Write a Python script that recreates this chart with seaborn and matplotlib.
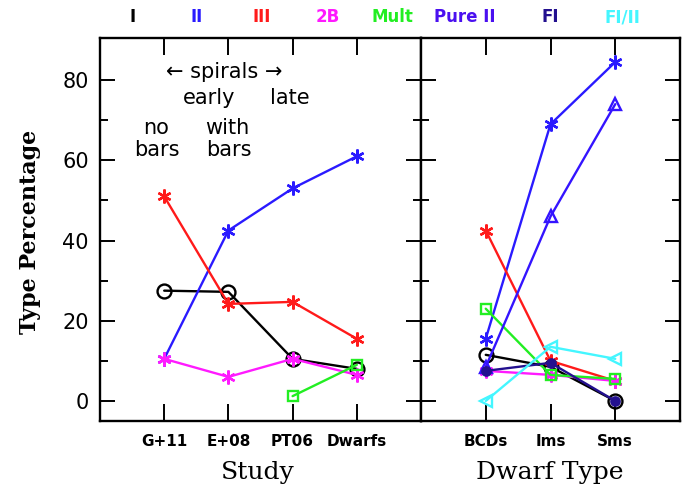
import numpy as np
import pandas as pd
import seaborn as sns
import matplotlib.pyplot as plt

# categories
study_labels = ['G+11', 'E+08', 'PT06', 'Dwarfs']
dwarf_labels = ['BCDs', 'Ims', 'Sms']

# left panel: type percentage per study
left_I = [27.5, 27.2, 10.5, 8.0]
left_II = [10.5, 42.5, 53.0, 61.0]
left_III = [51.0, 24.2, 24.7, 15.5]
left_2B = [10.5, 6.0, 10.5, 6.5]
left_mult = [np.nan, np.nan, 1.2, 9.0]

# right panel: type percentage per dwarf type
right_I = [11.5, 8.5, 0.0]
right_II = [15.5, 69.0, 84.5]
right_III = [42.5, 10.0, 5.0]
right_2B = [7.5, 6.5, 5.0]
right_mult = [23.0, 6.5, 5.5]
right_pure = [8.5, 46.0, 74.0]
right_FI = [7.5, 9.5, 0.0]
right_FIII = [0.0, 13.5, 10.5]

legend_names = ['I', 'II', 'III', '2B', 'Mult', 'Pure II', 'FI', 'FI/II']
legend_x = [133, 197, 262, 328, 392, 465, 550, 622]

colors = {'I': 'black', 'II': '#2a1aff', 'III': '#ff1a1a', '2B': '#ff1aff',
          'Mult': '#22ee22', 'Pure II': '#4a10f0', 'FI': '#23108f', 'FI/II': '#44f6ff'}
star = (6, 2, 0)
markers = {'I': 'o', 'II': star, 'III': star, '2B': star, 'Mult': 's',
           'Pure II': '^', 'FI': 'o', 'FI/II': '<'}
msizes = {'I': 10, 'II': 10, 'III': 10, '2B': 10, 'Mult': 7,
          'Pure II': 8, 'FI': 6, 'FI/II': 8}
line_cols = dict(colors, **{'Pure II': '#3414ff'})

sns.set_theme(style='white')
plt.rcParams['font.family'] = ['DejaVu Sans']
plt.rcParams['text.color'] = 'black'

fig = plt.figure(figsize=(6.9, 4.96), dpi=100)
ax1 = fig.add_axes([100 / 690, 1 - 421 / 496, 321 / 690, 383 / 496])
ax2 = fig.add_axes([421 / 690, 1 - 421 / 496, 259 / 690, 383 / 496], sharey=ax1)


def draw(ax, labels, series):
    x = np.arange(1, len(labels) + 1)
    for name, vals in series:
        df = pd.DataFrame({'x': x, 'y': vals}).dropna()
        filled = name == 'FI'
        c = line_cols[name]
        sns.lineplot(data=df, x='x', y='y', ax=ax, color=c,
                     linewidth=1.7, marker=markers[name], markersize=msizes[name],
                     markerfacecolor=c if filled else 'none',
                     markeredgecolor=c, markeredgewidth=1.7,
                     legend=False)
    ax.set_xticks(x)
    ax.set_xticklabels(labels, fontsize=11, fontweight='bold', color='black')
    ax.set_xlim(0, len(labels) + 1)
    ax.set_xlabel('')
    ax.set_ylabel('')
    ax.tick_params(axis='x', which='major', direction='in', length=12, width=1.4,
                   top=True, bottom=True, pad=9, colors='black')
    ax.tick_params(axis='y', which='major', direction='in', length=11, width=1.4,
                   left=True, right=True, colors='black')
    ax.tick_params(axis='y', which='minor', direction='in', length=6, width=1.4,
                   left=True, right=True, colors='black')
    for s in ax.spines.values():
        s.set_color('black')
        s.set_linewidth(1.7)


draw(ax1, study_labels, [('I', left_I), ('II', left_II), ('III', left_III),
                          ('2B', left_2B), ('Mult', left_mult)])
draw(ax2, dwarf_labels, [('I', right_I), ('II', right_II), ('III', right_III),
                          ('2B', right_2B), ('Mult', right_mult), ('Pure II', right_pure),
                          ('FI', right_FI), ('FI/II', right_FIII)])

ax1.set_ylim(-5, 90.5)
ax1.set_yticks([0, 20, 40, 60, 80])
ax1.set_yticks([10, 30, 50, 70], minor=True)
ax1.tick_params(axis='y', labelsize=15, pad=8, labelcolor='black')
ax2.tick_params(axis='y', labelleft=False)

# text notes in the left panel
note_kw = dict(ha='center', va='center', fontsize=15, color='black')
ax1.text(1.93, 82, '\u2190 spirals \u2192', **note_kw)
ax1.text(1.7, 75.5, 'early', **note_kw)
ax1.text(2.95, 75.5, 'late', **note_kw)
ax1.text(0.87, 68, 'no', **note_kw)
ax1.text(0.89, 62.5, 'bars', **note_kw)
ax1.text(1.98, 68, 'with', **note_kw)
ax1.text(2.0, 62.5, 'bars', **note_kw)

fig.text(30 / 690, 1 - 232 / 496, 'Type Percentage', rotation=90, ha='center', va='center',
         fontsize=16, fontweight='bold', family='DejaVu Serif', color='black')
fig.text(258 / 690, 1 - 472 / 496, 'Study', ha='center', va='center',
         fontsize=18, family='DejaVu Serif', color='black')
fig.text(550 / 690, 1 - 472 / 496, 'Dwarf Type', ha='center', va='center',
         fontsize=18, family='DejaVu Serif', color='black')

for name, px in zip(legend_names, legend_x):
    fig.text(px / 690, 1 - 17 / 496, name, ha='center', va='center', fontsize=12,
             fontweight='bold', color=colors[name])

fig.savefig('out.png', dpi=100)
